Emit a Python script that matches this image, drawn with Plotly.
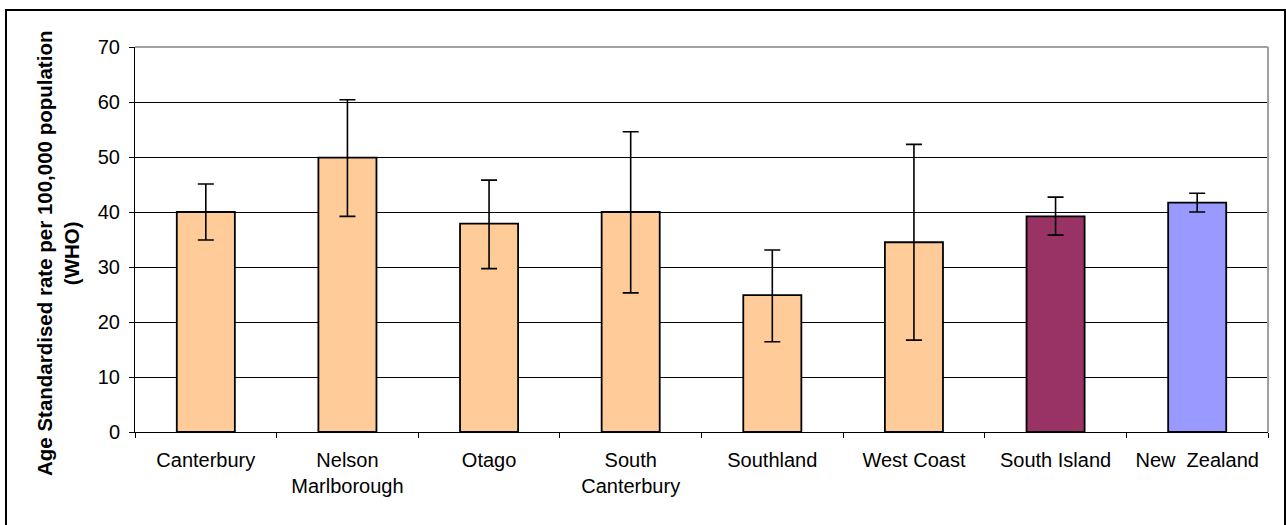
import plotly.graph_objects as go

categories = ["Canterbury", "Nelson<br>Marlborough", "Otago", "South<br>Canterbury",
              "Southland", "West Coast", "South Island", "New  Zealand"]
rates = [40.0, 49.9, 37.9, 40.0, 24.9, 34.5, 39.2, 41.7]
ci_upper = [45.1, 60.4, 45.8, 54.6, 33.1, 52.3, 42.7, 43.4]
ci_lower = [34.9, 39.2, 29.7, 25.3, 16.4, 16.7, 35.8, 40.0]
y_ticks = [0, 10, 20, 30, 40, 50, 60, 70]

bar_colors = ["#FFCC99"] * 6 + ["#993366", "#9999FF"]

err_plus = [u - v for u, v in zip(ci_upper, rates)]
err_minus = [v - l for v, l in zip(rates, ci_lower)]

FONT = "Arial, Liberation Sans, sans-serif"

fig = go.Figure()
fig.add_trace(go.Bar(
    x=categories, y=rates,
    marker=dict(color=bar_colors, line=dict(color="black", width=1.8)),
    error_y=dict(type="data", symmetric=False, array=err_plus, arrayminus=err_minus,
                 color="black", thickness=1.6, width=8),
    width=0.41,
))

L, R, T, B = 135, 18, 47, 93
W, H = 1286, 525
pw, ph = W - L - R, H - T - B

def px_x(p):
    return (p - L) / pw

def px_y(p):
    return (H - B - p) / ph

fig.update_layout(
    width=W, height=H,
    margin=dict(l=L, r=R, t=T, b=B),
    paper_bgcolor="white", plot_bgcolor="white",
    showlegend=False,
    font=dict(family=FONT, size=20, color="black"),
    xaxis=dict(
        type="category", tickson="boundaries", ticks="outside", ticklen=5,
        tickcolor="black", showline=True, linecolor="black", linewidth=1,
        showgrid=False, tickfont=dict(size=20), ticklabelstandoff=10,
    ),
    yaxis=dict(
        range=[0, 70], tickvals=y_ticks, ticks="outside", ticklen=5, tickcolor="black",
        showline=True, linecolor="black", linewidth=1,
        showgrid=True, gridcolor="black", gridwidth=1, zeroline=False,
        tickfont=dict(size=20), ticklabelstandoff=5,
    ),
    shapes=[
        dict(type="line", xref="paper", yref="paper", x0=0, x1=1, y0=1, y1=1,
             line=dict(color="#A0A0A0", width=2)),
        dict(type="line", xref="paper", yref="paper", x0=1, x1=1, y0=0, y1=1,
             line=dict(color="#A0A0A0", width=2)),
        dict(type="rect", xref="paper", yref="paper",
             x0=px_x(6), x1=px_x(1285), y0=px_y(10), y1=px_y(540),
             line=dict(color="black", width=2), fillcolor="rgba(0,0,0,0)"),
    ],
    annotations=[
        dict(text="<b>Age Standardised rate per 100,000 population<br>(WHO)</b>",
             textangle=-90, xref="paper", yref="paper",
             x=px_x(58), y=px_y(254), xanchor="center", yanchor="middle",
             showarrow=False, font=dict(size=20.5, family=FONT, color="black")),
    ],
)

fig.write_html("out.html", config={"displayModeBar": False},
               post_script="document.body.style.margin='0';")
